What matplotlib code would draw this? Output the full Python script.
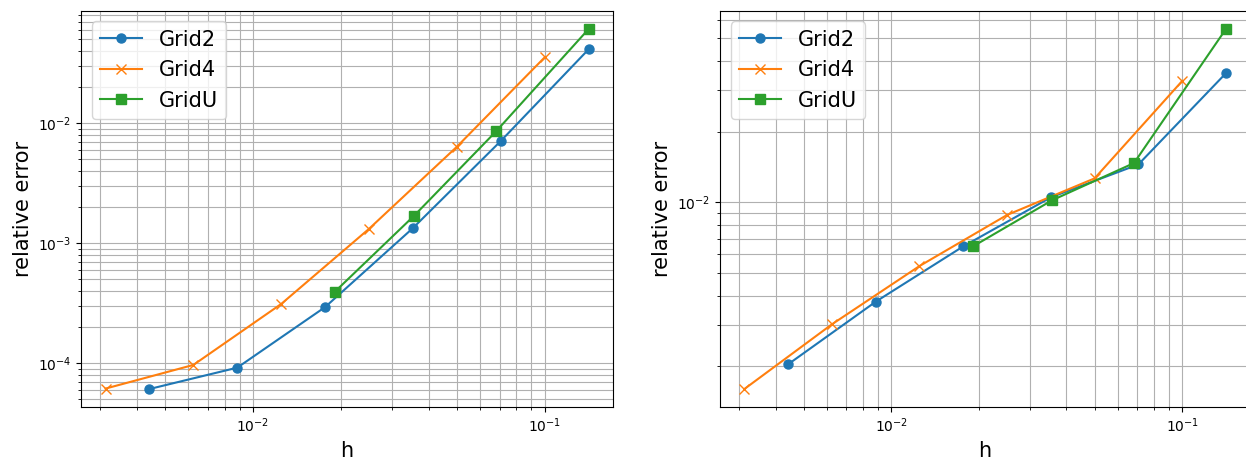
import matplotlib
matplotlib.use('Agg')
import matplotlib.pyplot as plt
from matplotlib.ticker import NullFormatter

# mesh sizes
h_grid2 = [0.1414, 0.0707, 0.03536, 0.01768, 0.00884, 0.00442]
h_grid4 = [0.1, 0.05, 0.025, 0.0125, 0.00625, 0.003125]
h_gridU = [0.1414, 0.0683, 0.0357, 0.0191]

# left panel errors
err_left_grid2 = [0.0414, 7.12e-3, 1.34e-3, 2.94e-4, 9.19e-5, 6.1e-5]
err_left_grid4 = [0.0355, 6.38e-3, 1.32e-3, 3.12e-4, 9.68e-5, 6.15e-5]
err_left_gridU = [0.0611, 8.63e-3, 1.70e-3, 3.95e-4]

# right panel errors
err_right_grid2 = [0.0355, 1.45e-2, 1.05e-2, 6.49e-3, 3.77e-3, 2.04e-3]
err_right_grid4 = [0.0329, 1.265e-2, 8.83e-3, 5.35e-3, 3.02e-3, 1.60e-3]
err_right_gridU = [0.0548, 1.47e-2, 1.02e-2, 6.49e-3]

labels = ['Grid2', 'Grid4', 'GridU']
markers = ['o', 'x', 's']

fig = plt.figure(figsize=(12.46, 4.57), dpi=100)
ax1 = fig.add_axes([0.0653, 0.1094, 0.4265, 0.8665])
ax2 = fig.add_axes([0.5781, 0.1094, 0.4251, 0.8665])

panels = [
    (ax1, [err_left_grid2, err_left_grid4, err_left_gridU]),
    (ax2, [err_right_grid2, err_right_grid4, err_right_gridU]),
]
hs = [h_grid2, h_grid4, h_gridU]

for ax, errs in panels:
    for h, e, lab, m in zip(hs, errs, labels, markers):
        ax.loglog(h, e, marker=m, markersize=6.5, label=lab)
    ax.grid(True, which='both')
    ax.set_xlabel('h', fontsize=15)
    ax.set_ylabel('relative error', fontsize=15)
    ax.yaxis.set_minor_formatter(NullFormatter())
    ax.xaxis.set_minor_formatter(NullFormatter())
    ax.legend(loc='upper left', fontsize=15)

fig.savefig('out.png', dpi=100)
